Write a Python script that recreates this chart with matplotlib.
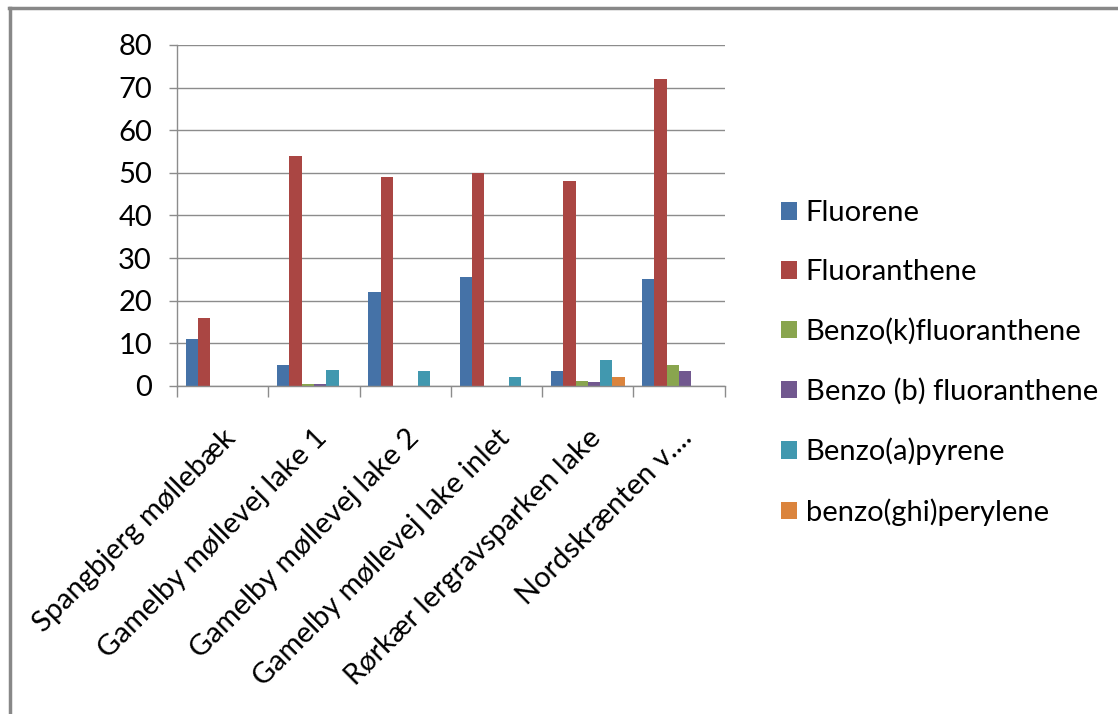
import numpy as np
import matplotlib
matplotlib.use('Agg')
import matplotlib.pyplot as plt
from matplotlib.lines import Line2D

sites = ['Spangbjerg møllebæk', 'Gamelby møllevej lake 1', 'Gamelby møllevej lake 2',
         'Gamelby møllevej lake inlet', 'Rørkær lergravsparken lake', 'Nordskrænten v....']

fluorene = [11, 5, 22, 25.5, 3.4, 25]
fluoranthene = [16, 54, 49, 50, 48, 72]
benzo_k = [0, 0.4, 0, 0, 1.2, 5]
benzo_b = [0, 0.4, 0, 0, 0.9, 3.5]
benzo_a = [0, 3.8, 3.4, 2, 6, 0]
benzo_ghi = [0, 0, 0, 0, 2, 0]

series = [
    ('Fluorene', fluorene, '#4572A7'),
    ('Fluoranthene', fluoranthene, '#AA4643'),
    ('Benzo(k)fluoranthene', benzo_k, '#89A54E'),
    ('Benzo (b) fluoranthene', benzo_b, '#71588F'),
    ('Benzo(a)pyrene', benzo_a, '#4198AF'),
    ('benzo(ghi)perylene', benzo_ghi, '#DB843D'),
]

plt.rcParams['font.family'] = ['Lato', 'DejaVu Sans']
fs = 21

fig = plt.figure(figsize=(11.18, 7.14), dpi=100)
ax = fig.add_axes([0.1583, 0.4594, 0.490, 0.4776])

x = np.arange(len(sites))
w = 0.135
for i, (name, vals, col) in enumerate(series):
    off = (i - 2.5) * w
    ax.bar(x + off, vals, width=w, color=col, label=name)

ax.set_xlim(-0.5, len(sites) - 0.5)
ax.set_ylim(0, 80)
ax.set_yticks(range(0, 81, 10))
ax.yaxis.grid(True, color='#8c8c8c', linewidth=1)
ax.set_axisbelow(True)

# ticks sit between categories
ax.set_xticks(np.arange(-0.5, len(sites)), minor=False)
ax.set_xticklabels([])
ax.set_xticks(x, minor=True)
ax.set_xticklabels(sites, minor=True, rotation=45, ha='right', rotation_mode='anchor', fontsize=fs)
ax.tick_params(axis='x', which='minor', length=0, pad=28)
ax.tick_params(axis='x', which='major', length=8, color='#8c8c8c', width=1)
ax.tick_params(axis='y', length=6, color='#8c8c8c', width=1, labelsize=fs, pad=12)

for s in ['top', 'right']:
    ax.spines[s].set_visible(False)
for s in ['left', 'bottom']:
    ax.spines[s].set_color('#8c8c8c')
    ax.spines[s].set_linewidth(1)

fig.legend(loc='center left', bbox_to_anchor=(0.688, 0.4916), frameon=False,
           fontsize=fs, labelspacing=1.13, handlelength=0.55, handleheight=0.55,
           handletextpad=0.3, borderaxespad=0)

# outer frame along top and left edges
fig.add_artist(Line2D([0.009, 0.009], [0, 0.989], transform=fig.transFigure, color='#888888', lw=2.5))
fig.add_artist(Line2D([0.008, 1.0], [0.989, 0.989], transform=fig.transFigure, color='#888888', lw=2.5))

fig.savefig('out.png', dpi=100, facecolor='white')
